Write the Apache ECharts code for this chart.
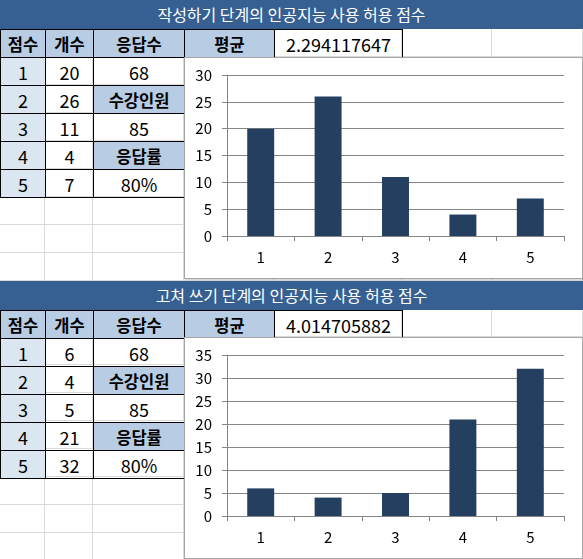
<!DOCTYPE html>
<html>
<head>
<meta charset="utf-8">
<script src="https://cdn.jsdelivr.net/npm/echarts@6/dist/echarts.min.js"></script>
<style>
body { margin: 0; background: #fff; font-family: "Noto Sans CJK KR", sans-serif; }
#sheet { position: relative; width: 583px; height: 559px; overflow: hidden; }
.c {
  position: absolute;
  box-sizing: border-box;
  text-align: center;
  font-size: 18px;
  color: #000;
  white-space: nowrap;
  overflow: hidden;
}
.grid { border-right: 1px solid #dadada; border-bottom: 1px solid #dadada; }
.box { border: 1px solid #000; }
.title { background: #366092; color: #fff; font-size: 16px; }
.head { background: #b8cce4; font-weight: bold; font-size: 16.5px; }
.first { background: #dce6f1; }
.chart {
  position: absolute; box-sizing: border-box; border: 1px solid #a6a6a6; background: #fff;
  box-shadow: 1px 1px 1px rgba(0,0,0,0.15);
}
</style>
</head>
<body>
<div id="sheet">
  <div id="chart1" class="chart" style="left:184px; top:57px; width:399px; height:222px;"></div>
  <div id="chart2" class="chart" style="left:184px; top:337px; width:399px; height:222px;"></div>
</div>

<script>
// data
var scores = ["1", "2", "3", "4", "5"];
var writingCounts = [20, 26, 11, 4, 7];
var revisingCounts = [6, 4, 5, 21, 32];
var writingAvg = "2.294117647";
var revisingAvg = "4.014705882";
var respondents = 68;
var enrolled = 85;
var responseRate = "80%";
var headers = ["점수", "개수", "응답수", "평균"];
var sideLabels = ["수강인원", "응답률"];
var writingYMax = 30;
var revisingYMax = 35;
var yStep = 5;

var cols = [0, 45, 93, 184, 274, 402, 492, 583];
var sheet = document.getElementById("sheet");
var firstChart = sheet.querySelector(".chart");

function cell(x0, x1, y0, y1, text, cls) {
  var d = document.createElement("div");
  d.className = "c " + cls;
  var extra = cls.indexOf("box") >= 0 ? 1 : 0;
  d.style.left = x0 + "px";
  d.style.top = y0 + "px";
  d.style.width = (x1 - x0 + extra) + "px";
  d.style.height = (y1 - y0 + extra) + "px";
  d.style.lineHeight = (y1 - y0) + "px";
  d.textContent = text;
  sheet.insertBefore(d, firstChart);
  return d;
}

// light spreadsheet grid behind everything
var rowLines = [0, 29, 57, 85, 113, 141, 169, 197, 225, 253, 281, 309, 337, 365, 393, 421, 449, 477, 505, 533, 561];
for (var r = 0; r < rowLines.length - 1; r++) {
  for (var k = 0; k < cols.length - 1; k++) {
    cell(cols[k], cols[k + 1], rowLines[r], rowLines[r + 1], "", "grid");
  }
}

function block(top, title, counts, avg) {
  cell(0, 583, top, top + 29, title, "title");
  var hy = top + 29;
  for (var i = 0; i < headers.length; i++) {
    cell(cols[i], cols[i + 1], hy, hy + 28, headers[i], "box head");
  }
  cell(cols[4], cols[5], hy, hy + 28, avg, "box");
  var thirdCol = [String(respondents), sideLabels[0], String(enrolled), sideLabels[1], responseRate];
  for (var j = 0; j < scores.length; j++) {
    var y = hy + 28 + j * 28;
    cell(cols[0], cols[1], y, y + 28, scores[j], "box first");
    cell(cols[1], cols[2], y, y + 28, String(counts[j]), "box");
    cell(cols[2], cols[3], y, y + 28, thirdCol[j], j % 2 === 1 ? "box head" : "box");
  }
}

block(0, "작성하기 단계의 인공지능 사용 허용 점수", writingCounts, writingAvg);
block(281, "고쳐 쓰기 단계의 인공지능 사용 허용 점수", revisingCounts, revisingAvg);

function drawBarChart(id, counts, yMax) {
  var chart = echarts.init(document.getElementById(id));
  chart.setOption({
    animation: false,
    textStyle: { fontFamily: "Noto Sans CJK KR" },
    grid: { left: 42, right: 18, top: 17, bottom: 42 },
    xAxis: {
      type: "category",
      data: scores,
      axisLine: { lineStyle: { color: "#868686", width: 1 } },
      axisTick: { show: true, length: 5, lineStyle: { color: "#868686" } },
      axisLabel: { color: "#000", fontSize: 15, margin: 14 }
    },
    yAxis: {
      type: "value",
      min: 0,
      max: yMax,
      interval: yStep,
      axisLine: { show: true, lineStyle: { color: "#868686", width: 1 } },
      axisTick: { show: true, length: 5, lineStyle: { color: "#868686" } },
      axisLabel: { color: "#000", fontSize: 15, margin: 15 },
      splitLine: { lineStyle: { color: "#868686", width: 1 } }
    },
    series: [
      {
        type: "bar",
        barWidth: "40%",
        itemStyle: { color: "#243f60" },
        data: counts
      }
    ]
  });
}

drawBarChart("chart1", writingCounts, writingYMax);
drawBarChart("chart2", revisingCounts, revisingYMax);
</script>
</body>
</html>
